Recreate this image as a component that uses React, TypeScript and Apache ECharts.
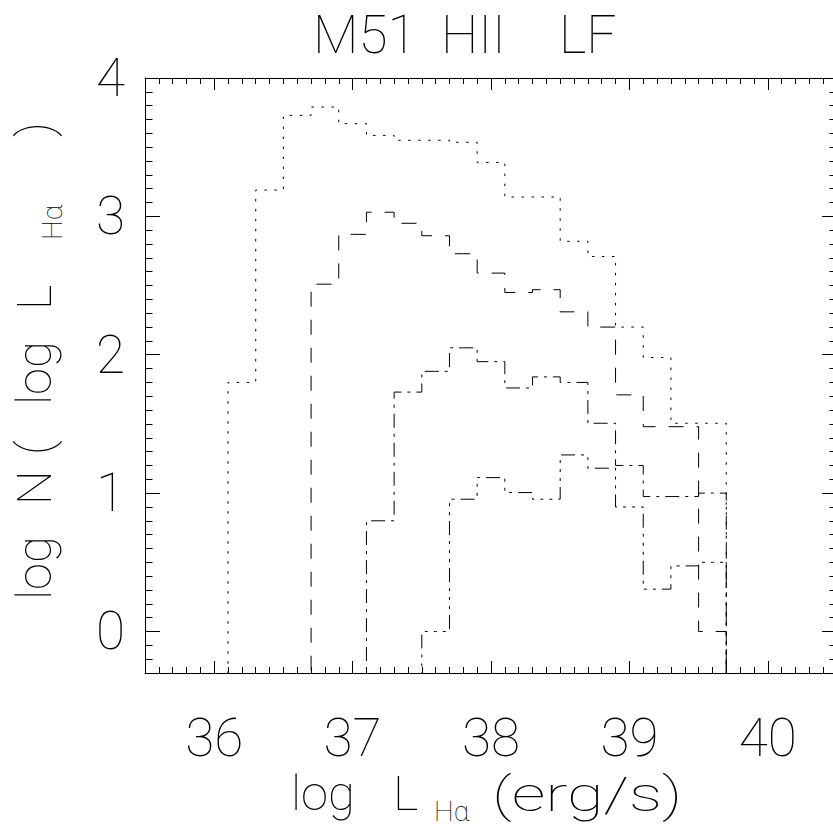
import React, { useEffect, useRef } from "react";
import * as echarts from "echarts";

// ---- data ----
const binCenters = [36.0, 36.2, 36.4, 36.6, 36.8, 37.0, 37.2, 37.4, 37.6, 37.8, 38.0, 38.2, 38.4, 38.6, 38.8, 39.0, 39.2, 39.4, 39.6, 39.8];
// null = empty bin (log of zero -> drawn below the axis and clipped)
const dottedLF = [null, 1.8, 3.19, 3.73, 3.79, 3.67, 3.585, 3.55, 3.55, 3.535, 3.39, 3.14, 3.14, 2.82, 2.71, 2.2, 1.98, 1.505, 1.505, null];
const dashedLF = [null, null, null, null, 2.51, 2.87, 3.03, 2.95, 2.86, 2.73, 2.59, 2.45, 2.47, 2.31, 2.2, 1.71, 1.48, 1.48, 0.0, null];
const dashDotLF = [null, null, null, null, null, null, 0.8, 1.73, 1.88, 2.05, 1.95, 1.76, 1.84, 1.8, 1.505, 1.2, 0.975, 0.975, 1.0, null];
const dashDot3LF = [null, null, null, null, null, null, null, null, 0.0, 0.956, 1.112, 1.004, 0.956, 1.276, 1.18, 0.9, 0.306, 0.474, 0.5, null];

const xTickLabels = [36, 37, 38, 39, 40];
const yTickLabels = [0, 1, 2, 3, 4];
const titleWords = ["M51", "HII", "LF"];

const X_MIN = 35.5;
const X_MAX = 40.5;
const Y_MIN = -0.3;
const Y_MAX = 4;
const FLOOR = -1;

const FONT = "Roboto, 'DejaVu Sans', sans-serif";
const FW = 100;
const INK = "#000";

function minorTicks(min: number, max: number): number[] {
  const out: number[] = [];
  const start = Math.ceil(min * 10);
  const end = Math.floor(max * 10);
  for (let k = start; k <= end; k++) {
    if (k % 10 !== 0) out.push(k / 10);
  }
  return out;
}

function axisPair(
  pos: string,
  min: number,
  max: number,
  majors: number[],
  majorLen: number,
  minorLen: number,
  labels: any
) {
  const minors = minorTicks(min, max);
  return [
    {
      type: "value",
      position: pos,
      min,
      max,
      axisLine: { show: true, onZero: false, lineStyle: { color: INK, width: 1 } },
      axisTick: { show: true, inside: true, length: majorLen, customValues: majors, lineStyle: { color: INK, width: 1 } },
      axisLabel: labels
        ? { show: true, customValues: majors, color: INK, fontFamily: FONT, fontWeight: FW, ...labels }
        : { show: false },
      splitLine: { show: false },
    },
    {
      type: "value",
      position: pos,
      min,
      max,
      axisLine: { show: false, onZero: false },
      axisTick: { show: true, inside: true, length: minorLen, customValues: minors, lineStyle: { color: INK, width: 1 } },
      axisLabel: { show: false },
      splitLine: { show: false },
    },
  ];
}

function stepSeries(values: (number | null)[], dash: number[]) {
  return {
    type: "line",
    xAxisIndex: 0,
    yAxisIndex: 0,
    step: "middle",
    symbol: "none",
    showSymbol: false,
    silent: true,
    clip: true,
    data: binCenters.map((x, i) => [x, values[i] == null ? FLOOR : values[i]]),
    lineStyle: { color: INK, width: 1, type: dash },
  };
}

export default function App() {
  const ref = useRef<HTMLDivElement>(null);

  useEffect(() => {
    if (!ref.current) return;
    const chart = echarts.init(ref.current, null, { renderer: "svg" });

    const xAxes = [
      ...axisPair("bottom", X_MIN, X_MAX, xTickLabels, 12, 6, { fontSize: 53, margin: 38 }),
      ...axisPair("top", X_MIN, X_MAX, xTickLabels, 12, 6, null),
    ];
    const yAxes = [
      ...axisPair("left", Y_MIN, Y_MAX, yTickLabels, 15, 7.5, { fontSize: 53, margin: 20 }),
      ...axisPair("right", Y_MIN, Y_MAX, yTickLabels, 15, 7.5, null),
    ];

    const tok = (size: number, lh: number, w?: number) => ({
      fontSize: size,
      lineHeight: lh,
      fontFamily: FONT,
      fontWeight: FW,
      fill: INK,
      verticalAlign: "top",
      align: "left",
      ...(w ? { width: w } : {}),
    });
    const mainTok = (w?: number) => tok(49, 50, w);
    const subTok = (w?: number) => ({ ...tok(28, 28, w), padding: [28, 0, 0, 0] });

    const option: any = {
      animation: false,
      backgroundColor: "#fff",
      grid: {
        left: 145,
        top: 78,
        width: 692,
        height: 595,
        containLabel: false,
        outerBoundsMode: "none",
      },
      xAxis: xAxes,
      yAxis: yAxes,
      series: [
        stepSeries(dottedLF, [2.5, 7.5]),
        stepSeries(dashedLF, [15, 13]),
        stepSeries(dashDotLF, [14, 6, 3, 6]),
        stepSeries(dashDot3LF, [14, 6, 3, 6, 3, 6, 3, 6]),
      ],
      graphic: [
        {
          type: "text",
          x: 313,
          y: 36,
          style: {
            text: `{a|${titleWords[0]} }{b|${titleWords[1]} }{c|${titleWords[2]}}`,
            align: "left",
            verticalAlign: "middle",
            fontSize: 53,
            fontFamily: FONT,
            fontWeight: FW,
            fill: INK,
            rich: { a: tok(53, 56, 128), b: tok(53, 56, 118), c: tok(53, 56) },
          },
        },
        {
          type: "text",
          x: 291,
          y: 769,
          style: {
            text: "{a|log }{b|L }{s|Hα }",
            align: "left",
            verticalAlign: "top",
            fontSize: 49,
            fontFamily: FONT,
            fontWeight: FW,
            fill: INK,
            rich: { a: mainTok(102), b: mainTok(41), s: subTok(59) },
          },
        },
        {
          type: "text",
          x: 492,
          y: 769,
          scaleX: 1.36,
          style: {
            text: "(erg/s)",
            align: "left",
            verticalAlign: "top",
            fontSize: 49,
            lineHeight: 50,
            fontFamily: FONT,
            fontWeight: FW,
            fill: INK,
          },
        },
        {
          type: "text",
          x: 10,
          y: 600,
          rotation: Math.PI / 2,
          style: {
            text: "{a|log }{b|N }{p|( }{a|log }{l|L }{s|Hα }{c|)}",
            align: "left",
            verticalAlign: "top",
            fontSize: 49,
            fontFamily: FONT,
            fontWeight: FW,
            fill: INK,
            rich: {
              a: mainTok(95),
              b: mainTok(50),
              p: mainTok(50),
              l: mainTok(70),
              s: subTok(103),
              c: mainTok(),
            },
          },
        },
      ],
    };

    chart.setOption(option);
    return () => chart.dispose();
  }, []);

  return (
    <div
      ref={ref}
      style={{ position: "fixed", left: 0, top: 0, width: 833, height: 831, background: "#fff" }}
    />
  );
}
